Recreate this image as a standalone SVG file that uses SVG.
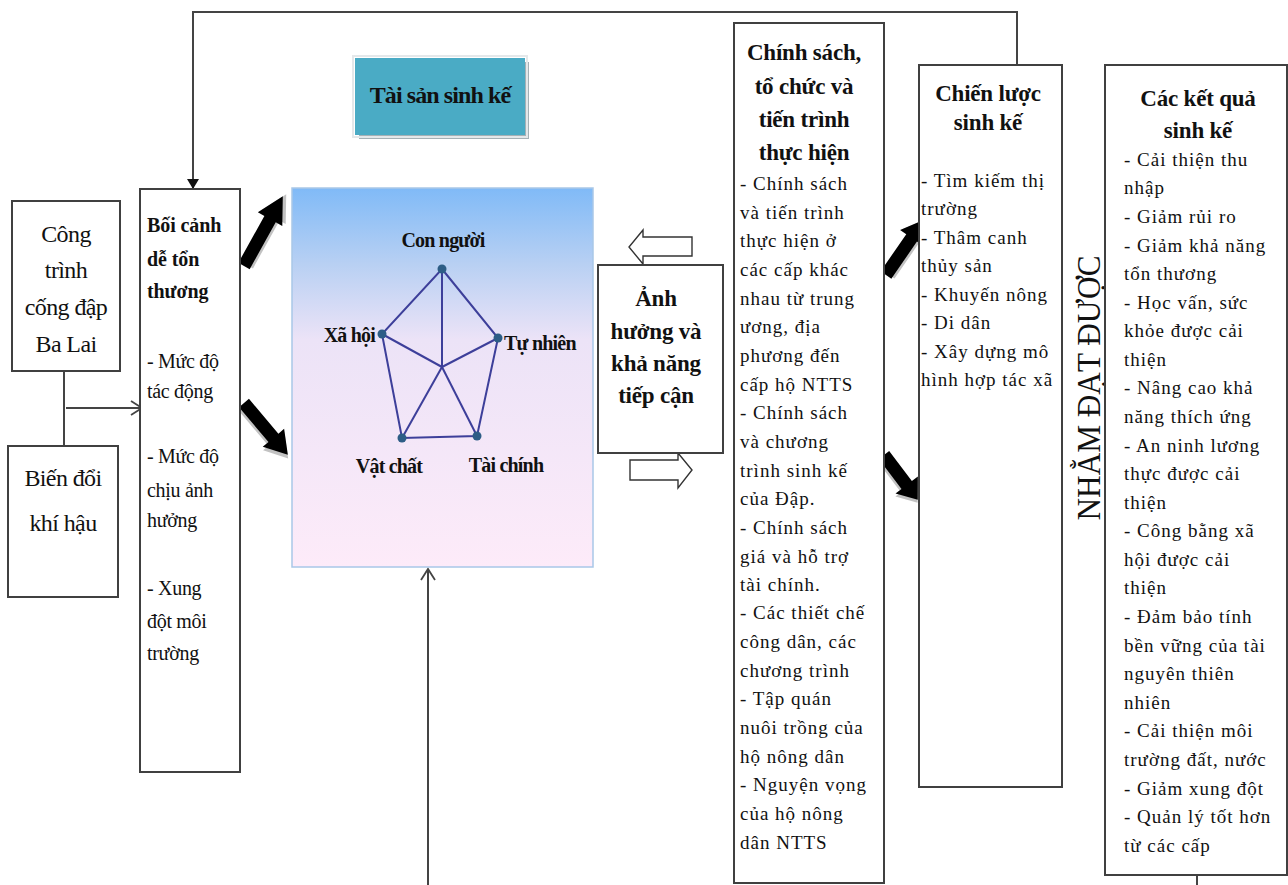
<svg xmlns="http://www.w3.org/2000/svg" width="1288" height="885" viewBox="0 0 1288 885">
  <style>
    .box { fill: #ffffff; stroke: #404040; stroke-width: 2; }
    .t { font-family: "Liberation Serif", "Times New Roman", serif; fill: #111; }
    .big { font-size: 24px; letter-spacing: -0.6px; }
    .hb { font-size: 20px; font-weight: bold; letter-spacing: -0.1px; }
    .bd { font-size: 20px; letter-spacing: -0.3px; }
    .hd { font-size: 23px; font-weight: bold; letter-spacing: -0.2px; }
    .sm { font-size: 19px; letter-spacing: 1px; }
    .lab { font-size: 20px; font-weight: bold; letter-spacing: -0.8px; }
    .mid { text-anchor: middle; }
    .end { text-anchor: end; }
    .conn { fill: none; stroke: #444; stroke-width: 2; }
    .web { stroke: #3d3f9a; stroke-width: 2; fill: none; }
    .dot { fill: #2d5d86; }
    .hollow { fill: #ffffff; stroke: #333; stroke-width: 1.4; }
  </style>
  <defs>
    <linearGradient id="assetFill" x1="0" y1="0" x2="0" y2="1">
      <stop offset="0" stop-color="#80baf7"/>
      <stop offset="0.2" stop-color="#b8d0f3"/>
      <stop offset="0.4" stop-color="#ece3f7"/>
      <stop offset="1" stop-color="#fdebf9"/>
    </linearGradient>
    <marker id="headFilled" markerWidth="10" markerHeight="12" refX="9" refY="6" orient="auto" markerUnits="userSpaceOnUse">
      <path d="M0,0 L10,6 L0,12 Z" fill="#111"/>
    </marker>
    <marker id="headOpen" markerWidth="14" markerHeight="16" refX="12" refY="8" orient="auto" markerUnits="userSpaceOnUse">
      <path d="M1,1 L12,8 L1,15" fill="none" stroke="#444" stroke-width="1.8"/>
    </marker>
    <!-- thick block arrow, pointing along +x, length 70 -->
    <g id="blockArrow">
      <path d="M2,-4 L50,-5 L50,-12 L73,2 L50,16 L50,9 L2,9 Z" fill="#9a9a9a" opacity="0.6"/>
      <path d="M0,-6.5 L47,-6.5 L47,-14 L70,0 L47,14 L47,6.5 L0,6.5 Z" fill="#000"/>
    </g>
  </defs>

  <!-- connectors -->
  <g id="connectors">
    <polyline class="conn" points="1017,65 1017,12 193,12 193,188" marker-end="url(#headFilled)"/>
    <line class="conn" x1="64" y1="371" x2="64" y2="446" stroke-width="1.6"/>
    <line class="conn" x1="66" y1="408" x2="142" y2="408" stroke-width="1.6" marker-end="url(#headOpen)"/>
    <line class="conn" x1="428" y1="885" x2="428" y2="569" stroke="#666" marker-end="url(#headOpen)"/>
    <line class="conn" x1="1197" y1="875" x2="1197" y2="885" stroke-width="1.6"/>
    <!-- thick arrows -->
    <use href="#blockArrow" transform="translate(244,266) rotate(-60.9) scale(1.14,1)"/>
    <use href="#blockArrow" transform="translate(244,403) rotate(49.8) scale(0.97,1)"/>
    <use href="#blockArrow" transform="translate(886,275) rotate(-55.4) scale(0.96,1)"/>
    <use href="#blockArrow" transform="translate(884,455) rotate(52.9) scale(0.8,1)"/>
    <!-- hollow arrows -->
    <path class="hollow" d="M692,237 L643,237 L643,230 L629,247 L643,264 L643,256 L692,256 Z"/>
    <path class="hollow" d="M630,460 L678,460 L678,453 L692,470 L678,488 L678,480 L630,480 Z"/>
  </g>

  <!-- left drivers -->
  <g id="node-dam">
    <rect class="box" x="12" y="201" width="108" height="170"/>
    <text class="t big mid" x="66" y="242">Công</text>
    <text class="t big mid" x="66" y="278">trình</text>
    <text class="t big mid" x="66" y="315">cống đập</text>
    <text class="t big mid" x="66" y="352">Ba Lai</text>
  </g>
  <g id="node-climate">
    <rect class="box" x="8" y="446" width="110" height="151"/>
    <text class="t big mid" x="63" y="486">Biến đổi</text>
    <text class="t big mid" x="63" y="531">khí hậu</text>
  </g>

  <g id="node-vulnerability">
    <rect class="box" x="140" y="189" width="100" height="583"/>
    <text class="t hb" x="147" y="232">Bối cảnh</text>
    <text class="t hb" x="147" y="266">dễ tổn</text>
    <text class="t hb" x="147" y="298">thương</text>
    <text class="t bd" x="147" y="368">- Mức độ</text>
    <text class="t bd" x="147" y="398">tác động</text>
    <text class="t bd" x="147" y="463">- Mức độ</text>
    <text class="t bd" x="147" y="497">chịu ảnh</text>
    <text class="t bd" x="147" y="527">hưởng</text>
    <text class="t bd" x="147" y="595">- Xung</text>
    <text class="t bd" x="147" y="628">đột môi</text>
    <text class="t bd" x="147" y="660">trường</text>
  </g>

  <!-- livelihood assets -->
  <g id="node-assets-title">
    <rect x="359" y="62" width="170" height="77" fill="#8f9ea4" opacity="0.8"/>
    <rect x="353" y="56" width="174" height="81" fill="none" stroke="#e4e8ea" stroke-width="2"/>
    <rect x="355" y="58" width="170" height="77" fill="#4aabc5"/>
    <text class="t mid" x="440" y="103" font-size="24" font-weight="bold" letter-spacing="-0.9">Tài sản sinh kế</text>
  </g>

  <g id="node-assets">
    <rect x="292" y="188" width="301" height="379" fill="url(#assetFill)" stroke="#a9c7e8" stroke-width="1.5"/>
    <polygon class="web" points="442,269 498,338 477,436 402,438 382,334"/>
    <line class="web" x1="442" y1="367" x2="442" y2="269"/>
    <line class="web" x1="442" y1="367" x2="498" y2="338"/>
    <line class="web" x1="442" y1="367" x2="477" y2="436"/>
    <line class="web" x1="442" y1="367" x2="402" y2="438"/>
    <line class="web" x1="442" y1="367" x2="382" y2="334"/>
    <circle class="dot" cx="442" cy="269" r="4.5"/>
    <circle class="dot" cx="498" cy="338" r="4.5"/>
    <circle class="dot" cx="477" cy="436" r="4.5"/>
    <circle class="dot" cx="402" cy="438" r="4.5"/>
    <circle class="dot" cx="382" cy="334" r="4.5"/>
    <text class="t lab mid" x="443" y="247">Con người</text>
    <text class="t lab end" x="375" y="342">Xã hội</text>
    <text class="t lab" x="504" y="350">Tự nhiên</text>
    <text class="t lab mid" x="389" y="473">Vật chất</text>
    <text class="t lab mid" x="506" y="472">Tài chính</text>
  </g>

  <g id="node-access">
    <rect class="box" x="598" y="265" width="125" height="188" stroke-width="1.5"/>
    <text class="t hd mid" x="656" y="306">Ảnh</text>
    <text class="t hd mid" x="656" y="339">hưởng và</text>
    <text class="t hd mid" x="656" y="371">khả năng</text>
    <text class="t hd mid" x="656" y="403">tiếp cận</text>
  </g>

  <!-- policies and institutions -->
  <g id="node-policy">
    <rect class="box" x="734" y="23" width="150" height="860"/>
    <text class="t hd mid" x="804" y="60">Chính sách,</text>
    <text class="t hd mid" x="804" y="94">tổ chức và</text>
    <text class="t hd mid" x="804" y="127">tiến trình</text>
    <text class="t hd mid" x="804" y="160">thực hiện</text>
    <text class="t sm" x="740" y="190">- Chính sách</text>
    <text class="t sm" x="740" y="219">và tiến trình</text>
    <text class="t sm" x="740" y="247">thực hiện ở</text>
    <text class="t sm" x="740" y="276">các cấp khác</text>
    <text class="t sm" x="740" y="305">nhau từ trung</text>
    <text class="t sm" x="740" y="333">ương, địa</text>
    <text class="t sm" x="740" y="362">phương đến</text>
    <text class="t sm" x="740" y="391">cấp hộ NTTS</text>
    <text class="t sm" x="740" y="419">- Chính sách</text>
    <text class="t sm" x="740" y="448">và chương</text>
    <text class="t sm" x="740" y="477">trình sinh kế</text>
    <text class="t sm" x="740" y="505">của Đập.</text>
    <text class="t sm" x="740" y="534">- Chính sách</text>
    <text class="t sm" x="740" y="563">giá và hỗ trợ</text>
    <text class="t sm" x="740" y="591">tài chính.</text>
    <text class="t sm" x="740" y="619">- Các thiết chế</text>
    <text class="t sm" x="740" y="648">công dân, các</text>
    <text class="t sm" x="740" y="677">chương trình</text>
    <text class="t sm" x="740" y="705">- Tập quán</text>
    <text class="t sm" x="740" y="734">nuôi trồng của</text>
    <text class="t sm" x="740" y="763">hộ nông dân</text>
    <text class="t sm" x="740" y="791">- Nguyện vọng</text>
    <text class="t sm" x="740" y="820">của hộ nông</text>
    <text class="t sm" x="740" y="849">dân NTTS</text>
  </g>

  <!-- livelihood strategies -->
  <g id="node-strategy">
    <rect class="box" x="919" y="65" width="143" height="722"/>
    <text class="t hd mid" x="988" y="101">Chiến lược</text>
    <text class="t hd mid" x="988" y="130">sinh kế</text>
    <text class="t sm" x="921" y="187">- Tìm kiếm thị</text>
    <text class="t sm" x="921" y="215">trường</text>
    <text class="t sm" x="921" y="244">- Thâm canh</text>
    <text class="t sm" x="921" y="272">thủy sản</text>
    <text class="t sm" x="921" y="301">- Khuyến nông</text>
    <text class="t sm" x="921" y="329">- Di dân</text>
    <text class="t sm" x="921" y="358">- Xây dựng mô</text>
    <text class="t sm" x="921" y="386">hình hợp tác xã</text>
  </g>

  <g id="label-aim">
    <text class="t mid" x="0" y="0" font-size="33" textLength="265" lengthAdjust="spacingAndGlyphs" transform="translate(1100,388) rotate(-90)">NHẰM ĐẠT ĐƯỢC</text>
  </g>

  <!-- livelihood outcomes -->
  <g id="node-outcomes">
    <rect class="box" x="1105" y="65" width="182" height="810"/>
    <text class="t hd mid" x="1198" y="106">Các kết quả</text>
    <text class="t hd mid" x="1198" y="138">sinh kế</text>
    <text class="t sm" x="1124" y="166">- Cải thiện thu</text>
    <text class="t sm" x="1124" y="194">nhập</text>
    <text class="t sm" x="1124" y="223">- Giảm rủi ro</text>
    <text class="t sm" x="1124" y="252">- Giảm khả năng</text>
    <text class="t sm" x="1124" y="280">tổn thương</text>
    <text class="t sm" x="1124" y="309">- Học vấn, sức</text>
    <text class="t sm" x="1124" y="337">khỏe được cải</text>
    <text class="t sm" x="1124" y="366">thiện</text>
    <text class="t sm" x="1124" y="394">- Nâng cao khả</text>
    <text class="t sm" x="1124" y="423">năng thích ứng</text>
    <text class="t sm" x="1124" y="452">- An ninh lương</text>
    <text class="t sm" x="1124" y="480">thực được cải</text>
    <text class="t sm" x="1124" y="509">thiện</text>
    <text class="t sm" x="1124" y="537">- Công bằng xã</text>
    <text class="t sm" x="1124" y="566">hội được cải</text>
    <text class="t sm" x="1124" y="594">thiện</text>
    <text class="t sm" x="1124" y="623">- Đảm bảo tính</text>
    <text class="t sm" x="1124" y="652">bền vững của tài</text>
    <text class="t sm" x="1124" y="680">nguyên thiên</text>
    <text class="t sm" x="1124" y="709">nhiên</text>
    <text class="t sm" x="1124" y="737">- Cải thiện môi</text>
    <text class="t sm" x="1124" y="766">trường đất, nước</text>
    <text class="t sm" x="1124" y="795">- Giảm xung đột</text>
    <text class="t sm" x="1124" y="823">- Quản lý tốt hơn</text>
    <text class="t sm" x="1124" y="852">từ các cấp</text>
  </g>
</svg>
